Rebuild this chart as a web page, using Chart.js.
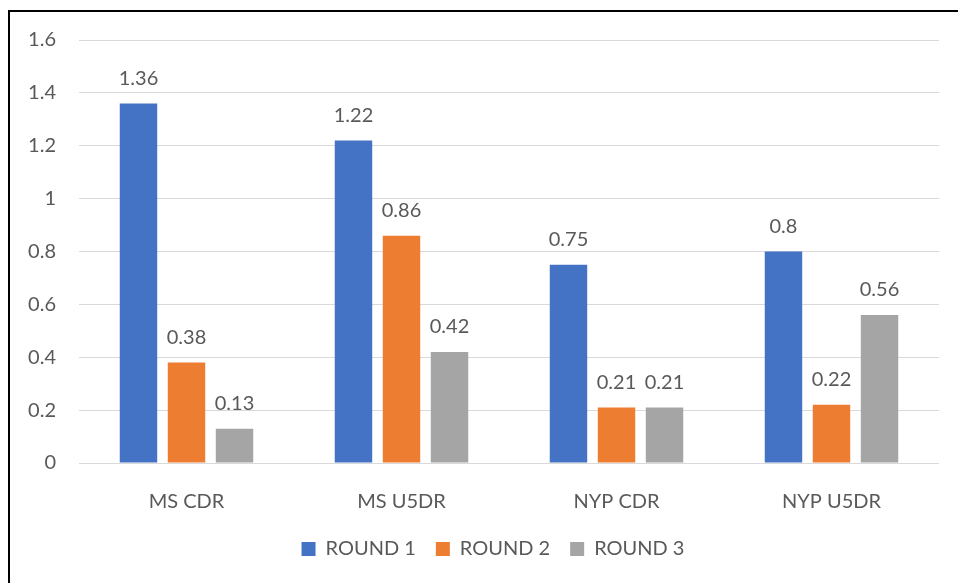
<!DOCTYPE html>
<html>
<head>
<meta charset="utf-8">
<script src="https://cdn.jsdelivr.net/npm/chart.js@4"></script>
<style>
  html, body { margin: 0; padding: 0; background: #fff; overflow: hidden; }
  #wrap { position: relative; width: 958px; height: 583px; }
  #frame { position: absolute; left: 8px; top: 10px; width: 1000px; height: 1000px;
           border: 2px solid #000; pointer-events: none; }
  canvas { position: absolute; left: 0; top: 0; }
</style>
</head>
<body>
<div id="wrap">
  <canvas id="c" width="958" height="583"></canvas>
  <div id="frame"></div>
</div>
<script>
const categories = ["MS CDR", "MS U5DR", "NYP CDR", "NYP U5DR"];
const round1 = [1.36, 1.22, 0.75, 0.8];
const round2 = [0.38, 0.86, 0.21, 0.22];
const round3 = [0.13, 0.42, 0.21, 0.56];
const seriesNames = ["ROUND 1", "ROUND 2", "ROUND 3"];
const yTickLabels = ["0", "0.2", "0.4", "0.6", "0.8", "1", "1.2", "1.4", "1.6"];

const colors = ["#4472C4", "#ED7D31", "#A5A5A5"];
const textColor = "#595959";
const fontFamily = "Lato, 'Open Sans', sans-serif";

// Value labels drawn above each bar
const valueLabels = {
  id: "valueLabels",
  afterDatasetsDraw(chart) {
    const ctx = chart.ctx;
    ctx.save();
    ctx.font = "20px " + fontFamily;
    ctx.fillStyle = textColor;
    ctx.textAlign = "center";
    ctx.textBaseline = "middle";
    chart.data.datasets.forEach((ds, di) => {
      chart.getDatasetMeta(di).data.forEach((bar, i) => {
        ctx.fillText(String(ds.data[i]), bar.x, bar.y - 25);
      });
    });
    ctx.restore();
  }
};

// Legend band: fixed height, centred slightly right of the canvas middle
const legendBand = {
  id: "legendBand",
  afterInit(chart) {
    const lg = chart.legend;
    if (!lg) return;
    const fit = lg.fit.bind(lg);
    lg.fit = function () { fit(); this.height = 64; };
  },
  afterLayout(chart) {
    const lg = chart.legend;
    if (!lg) return;
    lg.left = 47;
    lg.right = 939;
    lg.width = lg.right - lg.left;
  }
};

new Chart(document.getElementById("c"), {
  type: "bar",
  data: {
    labels: categories,
    datasets: [round1, round2, round3].map((d, i) => ({
      label: seriesNames[i],
      data: d,
      backgroundColor: colors[i],
      borderWidth: 0,
      categoryPercentage: 0.67,
      barPercentage: 0.78
    }))
  },
  options: {
    responsive: false,
    animation: false,
    devicePixelRatio: 1,
    layout: { padding: { top: 40, right: 19, left: 0, bottom: 0 } },
    plugins: {
      legend: {
        position: "bottom",
        labels: {
          boxWidth: 14, boxHeight: 14, padding: 20,
          color: textColor,
          font: { family: fontFamily, size: 20 }
        }
      },
      tooltip: { enabled: false }
    },
    scales: {
      x: {
        grid: { display: false },
        border: { display: false },
        ticks: { color: textColor, padding: 19, font: { family: fontFamily, size: 20 } },
        afterFit(s) { s.height = 56; }
      },
      y: {
        min: 0, max: 1.6,
        grid: { color: "#d9d9d9", lineWidth: 1, drawTicks: false },
        border: { display: false },
        ticks: {
          stepSize: 0.2, padding: 23, color: textColor,
          font: { family: fontFamily, size: 20 },
          callback: (v, i) => yTickLabels[i]
        },
        afterFit(s) { s.width = 79; }
      }
    }
  },
  plugins: [valueLabels, legendBand]
});
</script>
</body>
</html>
